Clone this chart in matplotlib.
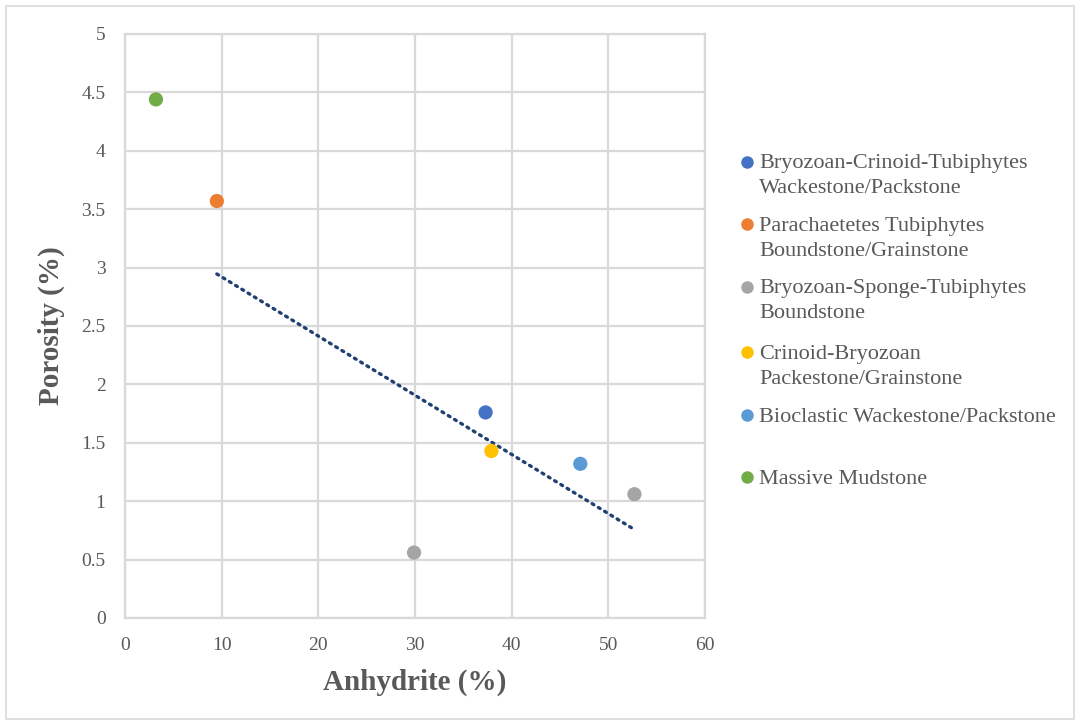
import numpy as np
import matplotlib
matplotlib.use("Agg")
import matplotlib.pyplot as plt
from matplotlib.lines import Line2D
from matplotlib.patches import Rectangle

# Facies groups, colours and measured samples (anhydrite %, porosity %)
facies = [
    "Bryozoan-Crinoid-Tubiphytes\nWackestone/Packstone",
    "Parachaetetes Tubiphytes\nBoundstone/Grainstone",
    "Bryozoan-Sponge-Tubiphytes\nBoundstone",
    "Crinoid-Bryozoan\nPackestone/Grainstone",
    "Bioclastic Wackestone/Packstone",
    "Massive Mudstone",
]
colors = ["#4472C4", "#ED7D31", "#A5A5A5", "#FFC000", "#5B9BD5", "#70AD47"]

anhydrite = {
    0: [37.3],
    1: [9.5],
    2: [29.9, 52.7],
    3: [37.9],
    4: [47.1],
    5: [3.2],
}
porosity = {
    0: [1.76],
    1: [3.57],
    2: [0.56, 1.06],
    3: [1.43],
    4: [1.32],
    5: [4.44],
}
# groups used for the linear trend
trend_groups = [0, 1, 2, 3, 4]

W, H = 1079, 724
fig = plt.figure(figsize=(W / 100, H / 100), dpi=100)
ax = fig.add_axes([125 / W, 1 - 618 / H, 580 / W, 584 / H])

serif = ["Liberation Serif", "DejaVu Serif"]
txt_color = "#595959"
grid_color = "#D9D9D9"

for i in range(len(facies)):
    ax.scatter(anhydrite[i], porosity[i], s=105, color=colors[i],
               edgecolors="none", zorder=3)

# linear trend line over the selected groups
tx = np.concatenate([anhydrite[i] for i in trend_groups])
ty = np.concatenate([porosity[i] for i in trend_groups])
slope, intercept = np.polyfit(tx, ty, 1)
xs = np.array([tx.min(), tx.max()])
ax.plot(xs, slope * xs + intercept, color="#203F73", lw=2.4,
        linestyle=(0, (0.6, 1.6)), dash_capstyle="round", zorder=2)

ax.set_xlim(0, 60)
ax.set_ylim(0, 5)
ax.set_xticks(np.arange(0, 61, 10))
ax.set_yticks(np.arange(0, 5.01, 0.5))
ax.set_yticklabels(["0", "0.5", "1", "1.5", "2", "2.5", "3", "3.5", "4", "4.5", "5"])
ax.grid(True, color=grid_color, lw=1.6)
ax.set_axisbelow(True)
for sp in ax.spines.values():
    sp.set_color(grid_color)
    sp.set_linewidth(1.6)
ax.tick_params(length=0, pad=14, labelsize=14, labelcolor=txt_color)
for lab in ax.get_xticklabels() + ax.get_yticklabels():
    lab.set_fontfamily(serif)

ax.set_xlabel("Anhydrite (%)", fontsize=21, fontweight="bold", color=txt_color,
              family=serif, labelpad=10)
ax.set_ylabel("Porosity (%)", fontsize=21, fontweight="bold", color=txt_color,
              family=serif, labelpad=12)

# legend drawn entry by entry, marker beside the first line of each label
dot_x, text_x = 747, 759
entry_y = [161.7, 224.0, 286.7, 352.3, 415.0, 477.3]
line_gap = 25.0
for i, label in enumerate(facies):
    y0 = entry_y[i]
    fig.add_artist(Line2D([dot_x / W], [1 - y0 / H], marker="o",
                          markersize=9, color=colors[i],
                          markeredgewidth=0, linestyle="none",
                          transform=fig.transFigure))
    for j, line in enumerate(label.split("\n")):
        fig.text(text_x / W, 1 - (y0 + 6.6 + j * line_gap) / H, line,
                 fontsize=16, color=txt_color, family=serif, va="baseline", ha="left")

# chart border
fig.add_artist(Rectangle((5.5 / W, 1 - 719 / H), 1068 / W, 713 / H,
                         transform=fig.transFigure, fill=False,
                         edgecolor=grid_color, lw=1.2))

fig.savefig("out.png", dpi=100)
